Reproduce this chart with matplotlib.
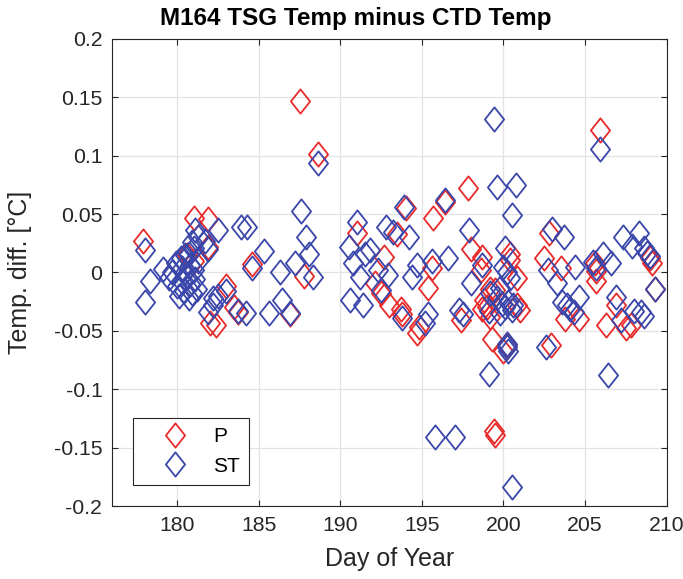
import matplotlib
matplotlib.use("Agg")
import matplotlib.pyplot as plt
from matplotlib.path import Path

# P (red) : day of year, temp difference
p_day = [177.9, 180.6, 181.0, 181.0, 181.9, 181.9, 182.4, 182.0, 183.0, 183.5,
         183.7, 184.6, 186.9, 187.5, 187.8, 188.65, 191.0, 192.1, 192.5, 192.7,
         193.0, 193.5, 193.7, 193.8, 194.0, 194.7, 194.8, 195.4, 195.6, 195.7,
         196.4, 197.4, 197.8, 198.0, 198.6, 198.7, 198.7, 198.8, 199.0, 199.2,
         199.2, 199.3, 199.4, 199.5, 199.5, 200.0, 200.4, 200.4, 200.8, 200.8,
         201.0, 200.2, 202.5, 202.8, 202.9, 203.5, 203.8, 204.6, 205.6, 205.7,
         205.7, 205.9, 206.3, 206.9, 207.5, 207.8, 209.0, 209.1, 209.3]
p_diff = [0.027, 0.015, 0.010, 0.047, 0.046, 0.022, -0.045, -0.043, -0.012, -0.030,
          -0.034, 0.007, -0.036, 0.147, -0.003, 0.101, 0.034, -0.009, -0.018, 0.013,
          -0.028, 0.033, -0.031, -0.036, 0.055, -0.052, -0.047, -0.013, 0.004, 0.047,
          0.060, -0.041, 0.072, 0.020, 0.002, 0.013, -0.031, -0.024, -0.030, -0.014,
          -0.038, -0.057, -0.136, -0.139, -0.015, -0.067, 0.016, 0.011, -0.005, -0.028,
          -0.032, -0.062, 0.012, 0.034, -0.062, 0.004, -0.040, -0.040, 0.008, -0.007,
          0.001, 0.122, -0.045, -0.028, -0.048, -0.045, 0.012, 0.008, -0.014]

# ST (blue)
st_day = [178.0, 178.0, 178.3, 179.1, 179.5, 179.7, 179.9, 180.0, 180.1, 180.2,
          180.3, 180.3, 180.4, 180.5, 180.5, 180.6, 180.7, 180.7, 180.8, 180.8,
          180.9, 181.0, 181.0, 181.1, 181.1, 181.2, 181.3, 181.3, 180.9, 181.7,
          181.9, 181.9, 182.2, 182.2, 182.5, 182.5, 183.0, 183.7, 183.9, 184.2,
          184.3, 184.6, 185.3, 185.6, 186.3, 186.4, 186.9, 187.2, 187.6, 187.9,
          188.1, 188.3, 188.65, 190.5, 190.6, 190.8, 191.0, 191.2, 191.4, 191.5,
          191.8, 192.3, 192.5, 192.8, 192.9, 193.2, 193.8, 193.9, 194.2, 194.4,
          194.7, 195.2, 195.4, 195.6, 195.8, 196.4, 196.6, 197.0, 197.3, 197.5,
          197.9, 198.0, 198.7, 199.1, 199.1, 199.2, 199.4, 199.6, 199.6, 199.8,
          199.8, 199.9, 200.0, 200.1, 200.1, 200.2, 200.2, 200.2, 200.3, 200.3,
          200.4, 200.5, 200.5, 200.5, 200.6, 200.75, 202.6, 202.7, 203.0, 203.3,
          203.6, 203.7, 203.9, 204.1, 204.3, 204.4, 204.6, 205.5, 205.7, 205.9,
          206.1, 206.4, 206.6, 206.9, 207.2, 207.3, 207.9, 208.0, 208.3, 208.4,
          208.6, 208.6, 208.8, 209.0, 209.3]
st_diff = [0.019, -0.025, -0.007, 0.003, -0.005, 0.000, 0.008, -0.012, -0.020, 0.012,
           0.004, -0.008, -0.016, 0.015, 0.000, -0.004, -0.022, 0.016, 0.006, -0.010,
           -0.018, 0.021, 0.002, -0.006, 0.036, -0.014, 0.030, 0.010, 0.026, 0.027,
           0.020, -0.034, -0.028, -0.022, -0.020, 0.036, -0.016, -0.033, 0.039, -0.035,
           0.039, 0.004, 0.018, -0.035, 0.000, -0.024, -0.035, 0.008, 0.053, 0.030,
           0.016, -0.004, 0.094, 0.022, -0.024, 0.008, 0.043, -0.004, -0.028, 0.016,
           0.019, 0.002, -0.015, 0.039, -0.002, 0.035, -0.039, 0.056, 0.030, -0.004,
           0.006, -0.043, -0.036, 0.010, -0.141, 0.062, 0.012, -0.141, -0.032, -0.036,
           0.036, -0.009, 0.006, -0.033, -0.087, -0.018, 0.131, 0.073, -0.022, -0.013,
           -0.035, -0.027, 0.005, 0.021, -0.030, 0.000, -0.061, -0.064, -0.067, -0.025,
           -0.005, -0.032, 0.049, -0.184, -0.028, 0.075, -0.064, 0.002, 0.037, -0.009,
           -0.025, 0.030, -0.028, -0.031, -0.034, 0.005, -0.021, 0.009, 0.004, 0.106,
           0.016, -0.088, 0.008, -0.021, -0.041, 0.030, 0.023, -0.033, 0.034, -0.034,
           0.021, -0.037, 0.017, 0.014, -0.014]

x_ticks = [180, 185, 190, 195, 200, 205, 210]
y_ticks = [-0.2, -0.15, -0.1, -0.05, 0, 0.05, 0.1, 0.15, 0.2]
y_tick_labels = ["-0.2", "-0.15", "-0.1", "-0.05", "0", "0.05", "0.1", "0.15", "0.2"]

plt.rcParams['font.family'] = ['Liberation Sans', 'DejaVu Sans']

# matlab style diamond, a bit taller than wide
diamond = Path([(0, 1), (0.79, 0), (0, -1), (-0.79, 0), (0, 1)],
               [Path.MOVETO, Path.LINETO, Path.LINETO, Path.LINETO, Path.CLOSEPOLY])

red = '#e82a2a'
blue = '#3a46aa'
dark = '#262626'

fig = plt.figure(figsize=(6.83, 5.79), dpi=100)
ax = fig.add_axes([0.164, 0.126, 0.812, 0.807])

ax.plot(p_day, p_diff, linestyle='none', marker=diamond, markersize=17.5,
        markerfacecolor='none', markeredgecolor=red, markeredgewidth=1.3, label='P')
ax.plot(st_day, st_diff, linestyle='none', marker=diamond, markersize=17.5,
        markerfacecolor='none', markeredgecolor=blue, markeredgewidth=1.3, label='ST')

ax.set_xlim(176, 210)
ax.set_ylim(-0.2, 0.2)
ax.set_xticks(x_ticks)
ax.set_yticks(y_ticks)
ax.set_yticklabels(y_tick_labels)
ax.grid(True, color='#e3e3e3', linewidth=0.9)
ax.set_axisbelow(True)

ax.tick_params(direction='in', top=True, right=True, length=4.5, width=0.8,
               colors=dark, labelsize=15.3, pad=7)
for s in ax.spines.values():
    s.set_color(dark)
    s.set_linewidth(0.8)

ax.set_xlabel('Day of Year', fontsize=18, color=dark, labelpad=9)
ax.set_ylabel('Temp. diff. [°C]', fontsize=18, color=dark)
ax.yaxis.set_label_coords(-0.145, 0.5)

fig.text(0.521, 0.968, 'M164 TSG Temp minus CTD Temp', fontsize=17.5,
         fontweight='bold', ha='center', va='center')

leg = ax.legend(loc='lower left', bbox_to_anchor=(0.038, 0.045), borderaxespad=0,
                fontsize=15, fancybox=False, framealpha=1, edgecolor=dark,
                handlelength=3.1, handletextpad=0.3, borderpad=0.45,
                labelspacing=0.5)
leg.get_frame().set_linewidth(0.8)

fig.savefig('out.png', dpi=100)
